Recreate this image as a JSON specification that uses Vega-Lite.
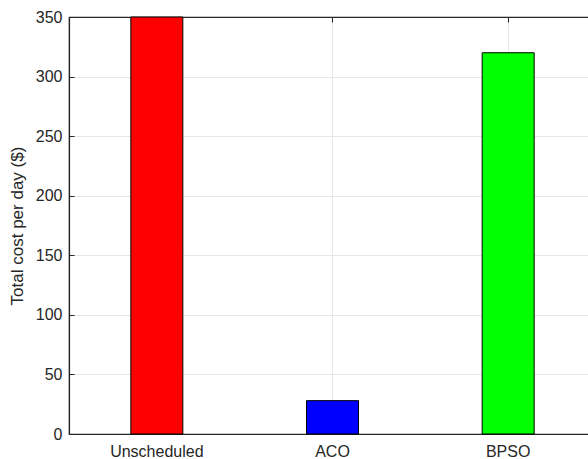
{
  "$schema": "https://vega.github.io/schema/vega-lite/v6.json",
  "autosize": "none",
  "width": 527,
  "height": 417,
  "padding": {"left": 69, "top": 17, "right": 0, "bottom": 25},
  "background": "white",
  "config": {
    "view": {"stroke": "#262626", "strokeWidth": 1.2},
    "font": "Liberation Sans",
    "axis": {
      "labelFont": "Liberation Sans",
      "titleFont": "Liberation Sans",
      "labelColor": "#262626",
      "titleColor": "#262626",
      "domainColor": "#262626",
      "tickColor": "#262626",
      "gridColor": "#e6e6e6",
      "labelFontSize": 16,
      "titleFontSize": 17,
      "titleFontWeight": "normal"
    }
  },
  "data": {
    "values": [
      {"method": "Unscheduled", "cost": 350},
      {"method": "ACO", "cost": 28},
      {"method": "BPSO", "cost": 320}
    ]
  },
  "layer": [
    {
      "mark": {"type": "bar", "stroke": "black", "strokeWidth": 1},
      "encoding": {
        "x": {
          "field": "method",
          "type": "nominal",
          "sort": ["Unscheduled", "ACO", "BPSO"],
          "scale": {"paddingInner": 0.704, "paddingOuter": 0.352},
          "axis": {
            "title": null,
            "orient": "bottom",
            "labelAngle": 0,
            "grid": true,
            "bandPosition": 0.5,
            "tickSize": -5,
            "labelPadding": 14,
            "domainWidth": 1.2
          }
        },
        "y": {
          "field": "cost",
          "type": "quantitative",
          "scale": {"domain": [0, 350], "nice": false},
          "axis": {
            "title": "Total cost per day ($)",
            "values": [0, 50, 100, 150, 200, 250, 300, 350],
            "grid": true,
            "tickSize": -5,
            "labelPadding": 12,
            "titlePadding": 9,
            "domainWidth": 1.2
          }
        },
        "color": {
          "field": "method",
          "type": "nominal",
          "scale": {"domain": ["Unscheduled", "ACO", "BPSO"], "range": ["#ff0000", "#0000ff", "#00ff00"]},
          "legend": null
        }
      }
    },
    {
      "mark": {"type": "point", "opacity": 0},
      "encoding": {
        "x": {
          "field": "method",
          "type": "nominal",
          "sort": ["Unscheduled", "ACO", "BPSO"],
          "axis": {
            "title": null,
            "orient": "top",
            "labels": false,
            "grid": false,
            "bandPosition": 0.5,
            "tickSize": -5,
            "domainWidth": 1.2
          }
        },
        "y": {"field": "cost", "type": "quantitative"}
      }
    }
  ],
  "resolve": {"axis": {"x": "independent"}}
}
